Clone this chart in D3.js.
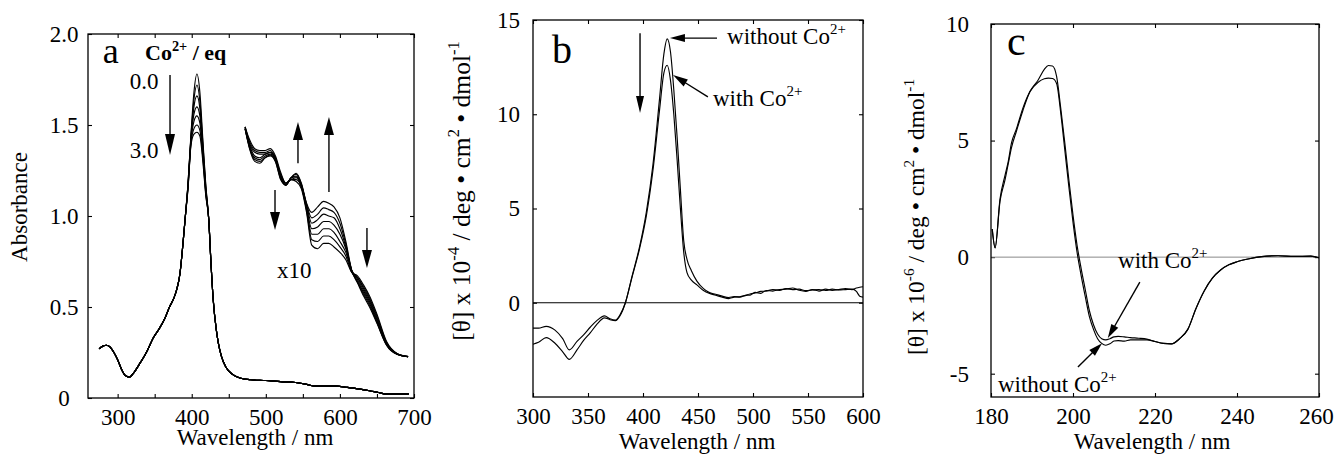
<!DOCTYPE html>
<html lang="en">
<head>
<meta charset="utf-8">
<title>Co2+ titration: absorbance and CD spectra</title>
<script src="https://cdn.jsdelivr.net/npm/d3@7"></script>
<style>
  body { margin: 0; background: #fff; }
  svg text { font-family: "Liberation Serif", "Times New Roman", serif; fill: #000; }
  .frame { fill: none; stroke: #000; stroke-width: 1.3; }
  .curve { fill: none; stroke: #000; stroke-width: 1.15; stroke-linejoin: round; }
  .zero { stroke-width: 1; }
  .arrow { stroke: #000; stroke-width: 1.4; }
</style>
</head>
<body>
<script>
// ---------- panel a : absorbance titration ----------
const eqLabels = ["0.0", "0.5", "1.0", "1.5", "2.0", "2.5", "3.0"];

// common part of the Soret spectrum, left and right of the peak
const absWlLeft = [275, 280, 285, 290, 295, 300, 305, 310, 316, 322, 330, 340, 348, 356, 364, 370, 376, 380, 384, 388, 391];
const absLeft   = [0.27, 0.285, 0.29, 0.28, 0.25, 0.21, 0.16, 0.125, 0.115, 0.14, 0.19, 0.26, 0.33, 0.38, 0.44, 0.50, 0.55, 0.60, 0.68, 0.84, 0.98];
const absWlRight = [423, 426, 429, 433, 436, 440, 446, 455, 465, 480, 500, 520, 540, 555, 565, 580, 595, 610, 625, 640, 652, 663, 675, 693];
const absRight   = [0.98, 0.74, 0.54, 0.38, 0.30, 0.23, 0.17, 0.13, 0.11, 0.10, 0.096, 0.09, 0.085, 0.075, 0.066, 0.066, 0.065, 0.058, 0.05, 0.04, 0.03, 0.022, 0.022, 0.022];

// Soret peak for each equivalent of Co2+
const peakWl = [395, 399, 403, 407, 411, 415, 419];
const peakAbs = [
  [1.18, 1.45, 1.68, 1.78, 1.68, 1.42, 1.17],
  [1.18, 1.44, 1.64, 1.72, 1.63, 1.40, 1.16],
  [1.17, 1.43, 1.60, 1.66, 1.59, 1.38, 1.15],
  [1.17, 1.42, 1.56, 1.60, 1.55, 1.36, 1.14],
  [1.16, 1.41, 1.52, 1.55, 1.51, 1.34, 1.13],
  [1.16, 1.40, 1.48, 1.50, 1.47, 1.32, 1.12],
  [1.15, 1.39, 1.45, 1.46, 1.44, 1.30, 1.11]
];

// Q-band region, shown x10 (values as plotted)
const insetWl = [472, 478, 485, 492, 499, 506, 513, 520, 527, 534, 541, 548, 555, 562, 570, 578, 585, 592, 600, 608, 616, 624, 632, 640, 650, 663, 677, 692];
const insetAbs = [
  [1.49, 1.42, 1.37, 1.36, 1.36, 1.37, 1.33, 1.24, 1.18, 1.20, 1.19, 1.15, 1.02, 0.84, 0.82, 0.85, 0.85, 0.83, 0.80, 0.76, 0.69, 0.67, 0.62, 0.56, 0.46, 0.31, 0.245, 0.227],
  [1.49, 1.41, 1.36, 1.35, 1.35, 1.36, 1.32, 1.23, 1.18, 1.20, 1.20, 1.16, 1.03, 0.87, 0.86, 0.89, 0.89, 0.87, 0.83, 0.78, 0.69, 0.66, 0.61, 0.55, 0.45, 0.305, 0.244, 0.227],
  [1.49, 1.40, 1.35, 1.34, 1.34, 1.35, 1.32, 1.22, 1.18, 1.20, 1.21, 1.16, 1.04, 0.90, 0.90, 0.93, 0.93, 0.91, 0.86, 0.80, 0.70, 0.66, 0.60, 0.54, 0.44, 0.30, 0.243, 0.227],
  [1.48, 1.39, 1.33, 1.32, 1.34, 1.35, 1.31, 1.22, 1.17, 1.21, 1.215, 1.17, 1.05, 0.93, 0.94, 0.97, 0.97, 0.95, 0.90, 0.82, 0.70, 0.65, 0.59, 0.53, 0.43, 0.30, 0.242, 0.227],
  [1.48, 1.38, 1.32, 1.31, 1.33, 1.34, 1.31, 1.21, 1.17, 1.21, 1.22, 1.17, 1.06, 0.96, 0.98, 1.01, 1.00, 0.99, 0.93, 0.83, 0.70, 0.64, 0.58, 0.52, 0.42, 0.295, 0.241, 0.227],
  [1.48, 1.375, 1.31, 1.30, 1.32, 1.335, 1.30, 1.205, 1.17, 1.21, 1.23, 1.175, 1.065, 0.99, 1.01, 1.045, 1.035, 1.02, 0.96, 0.845, 0.70, 0.635, 0.57, 0.51, 0.415, 0.29, 0.24, 0.227],
  [1.48, 1.37, 1.30, 1.29, 1.32, 1.33, 1.30, 1.20, 1.17, 1.21, 1.235, 1.18, 1.07, 1.02, 1.05, 1.08, 1.07, 1.05, 0.99, 0.86, 0.70, 0.63, 0.56, 0.50, 0.41, 0.29, 0.24, 0.227]
];

// ---------- panel b : visible CD ----------
const cdVisWl = [300, 305, 312, 320, 327, 333, 340, 346, 352, 358, 365, 370, 375, 379, 384, 390, 397, 403, 409, 415,
  419, 422, 425, 428, 431, 434, 437, 440, 444, 449, 455, 460, 466, 472, 478, 483, 488, 493, 498, 502,
  507, 512, 518, 524, 530, 536, 542, 548, 554, 560, 566, 572, 578, 584, 590, 594, 597, 600];
const cdVisWithout = [-2.2, -2.1, -1.85, -2.15, -2.6, -3.0, -2.5, -2.0, -1.6, -1.15, -0.8, -0.9, -0.95, -0.7, 0.0, 1.4, 3.0, 4.8, 7.3, 10.8,
  13.2, 14.0, 13.3, 11.3, 8.8, 6.0, 3.3, 2.3, 1.7, 1.15, 0.75, 0.55, 0.45, 0.35, 0.28, 0.33, 0.3, 0.38, 0.42, 0.55,
  0.5, 0.65, 0.62, 0.7, 0.72, 0.78, 0.66, 0.6, 0.7, 0.62, 0.72, 0.66, 0.7, 0.75, 0.7, 0.78, 0.82, 0.85];
const cdVisWith = [-1.35, -1.35, -1.25, -1.45, -1.9, -2.5, -2.05, -1.7, -1.3, -0.95, -0.7, -0.85, -0.92, -0.65, 0.0, 1.35, 2.9, 4.6, 7.0, 10.2,
  12.2, 12.6, 11.8, 10.0, 7.6, 5.0, 2.7, 1.6, 1.2, 0.95, 0.65, 0.5, 0.4, 0.3, 0.22, 0.3, 0.32, 0.4, 0.48, 0.52,
  0.6, 0.62, 0.7, 0.66, 0.75, 0.7, 0.72, 0.64, 0.68, 0.7, 0.65, 0.72, 0.68, 0.7, 0.72, 0.6, 0.35, 0.3];

// ---------- panel c : far-UV CD ----------
const cdUvWl = [180.3, 181, 182.2, 183.4, 184.2, 185, 186.2, 187.8, 189.5, 191.5,
  193, 194, 195, 196, 197, 198, 199, 200, 201, 202,
  203, 204, 205, 206, 207, 208, 209, 210, 211, 212.5,
  214, 216, 218, 220, 222, 224, 226, 228, 230, 232,
  234, 236, 238, 240, 243, 246, 250, 254, 258, 260];
const cdUvWith = [1.2, 0.4, 2.4, 3.3, 4.0, 4.7, 5.4, 6.3, 7.1, 7.6,
  8.05, 8.22, 8.2, 7.75, 6.4, 4.9, 3.3, 1.8, 0.5, -0.5,
  -1.4, -2.3, -2.9, -3.3, -3.5, -3.55, -3.5, -3.42, -3.4, -3.42,
  -3.45, -3.48, -3.52, -3.62, -3.7, -3.72, -3.5, -3.1, -2.2, -1.45,
  -0.9, -0.55, -0.33, -0.2, -0.07, 0.02, 0.06, 0.03, 0.04, -0.03];
const cdUvWithout = [1.2, 0.4, 2.5, 3.5, 4.1, 4.9, 5.5, 6.4, 7.1, 7.5,
  7.65, 7.68, 7.66, 7.45, 6.2, 4.6, 3.0, 1.5, 0.2, -0.8,
  -1.7, -2.55, -3.1, -3.5, -3.7, -3.78, -3.72, -3.6, -3.58, -3.6,
  -3.55, -3.55, -3.55, -3.62, -3.7, -3.72, -3.5, -3.1, -2.2, -1.45,
  -0.9, -0.55, -0.33, -0.2, -0.07, 0.02, 0.06, 0.03, 0.04, -0.03];

// ---------- drawing ----------
const W = 1334, H = 454;
const FONT = 23;
const svg = d3.select("body").append("svg").attr("width", W).attr("height", H);

function rich(g, parts, size, weight) {
  // parts: array of [string, isSuperscript]
  const t = g.append("text").attr("font-size", size).attr("font-weight", weight || "normal");
  let up = false;
  parts.forEach(([s, sup]) => {
    const ts = t.append("tspan").text(s);
    if (sup && !up) { ts.attr("font-size", size * 0.65).attr("dy", -size * 0.42); up = true; }
    else if (!sup && up) { ts.attr("dy", size * 0.42); up = false; }
  });
  return t;
}

function arrow(g, x1, y1, x2, y2, len, half) {
  const dx = x2 - x1, dy = y2 - y1, d = Math.hypot(dx, dy);
  const ux = dx / d, uy = dy / d;
  const bx = x2 - ux * len, by = y2 - uy * len;
  g.append("line").attr("class", "arrow")
    .attr("x1", x1).attr("y1", y1).attr("x2", bx + ux).attr("y2", by + uy);
  g.append("path").attr("fill", "#000")
    .attr("d", `M${x2},${y2}L${bx - uy * half},${by + ux * half}L${bx + uy * half},${by - ux * half}Z`);
}

function panel(o) {
  const g = svg.append("g");
  const x = d3.scaleLinear().domain(o.xDomain).range([o.left, o.right]);
  const y = d3.scaleLinear().domain(o.yDomain).range([o.bottom, o.top]);

  const styleAxis = s => {
    s.select(".domain").remove();
    s.attr("font-family", null).attr("font-size", FONT);
    s.selectAll(".tick line").attr("stroke-width", 1.1);
  };

  const xb = g.append("g").attr("transform", `translate(0,${o.bottom})`)
    .call(d3.axisBottom(x).tickValues(o.xTicks).tickFormat(o.xFmt).tickSizeInner(-4).tickSizeOuter(0).tickPadding(11))
    .call(styleAxis);
  if (o.lastXdx) xb.selectAll(".tick:last-of-type text").attr("dx", o.lastXdx);
  g.append("g").attr("transform", `translate(0,${o.top})`)
    .call(d3.axisTop(x).tickValues(o.xTicks).tickFormat("").tickSizeInner(-4).tickSizeOuter(0))
    .call(styleAxis);
  const yl = g.append("g").attr("transform", `translate(${o.left},0)`)
    .call(d3.axisLeft(y).tickValues(o.yTicks).tickFormat(o.yFmt).tickSizeInner(-4).tickSizeOuter(0).tickPadding(o.yPad))
    .call(styleAxis);
  if (o.yAnchor) yl.selectAll("text").attr("text-anchor", o.yAnchor);
  g.append("g").attr("transform", `translate(${o.right},0)`)
    .call(d3.axisRight(y).tickValues(o.yTicks).tickFormat("").tickSizeInner(-4).tickSizeOuter(0))
    .call(styleAxis);

  if (o.zero) {
    g.append("line").attr("class", "zero").attr("stroke", o.zero)
      .attr("x1", o.left).attr("x2", o.right).attr("y1", y(0)).attr("y2", y(0));
  }

  g.append("rect").attr("class", "frame")
    .attr("x", o.left).attr("y", o.top)
    .attr("width", o.right - o.left).attr("height", o.bottom - o.top);

  // axis titles
  g.append("text").attr("font-size", FONT).attr("text-anchor", "middle")
    .attr("x", (o.left + o.right) / 2 + o.xTitleDx).attr("y", o.xTitleY)
    .text("Wavelength / nm");
  rich(g, o.yTitle, o.yTitleSize || FONT)
    .attr("text-anchor", "middle")
    .attr("transform", `translate(${o.yTitleX},${o.yTitleCy}) rotate(-90)`);

  // panel letter
  g.append("text").attr("font-size", o.letterSize)
    .attr("x", x(o.letterAt[0])).attr("y", y(o.letterAt[1])).text(o.letter);

  return { g, x, y };
}

const line = (x, y) => d3.line().x(d => x(d[0])).y(d => y(d[1])).curve(d3.curveMonotoneX);

// ----- panel a -----
{
  const { g, x, y } = panel({
    left: 88, right: 414, top: 34, bottom: 398,
    xDomain: [260, 700], yDomain: [0, 2],
    xTicks: d3.range(300, 701, 50), xFmt: d => d % 100 === 0 ? d : "",
    yTicks: [0, 0.5, 1, 1.5, 2], yFmt: d => d === 0 ? "0" : d3.format(".1f")(d),
    yPad: 24, yAnchor: "middle",
    xTitleY: 445, xTitleDx: 4,
    yTitle: [["Absorbance", false]], yTitleX: 27, yTitleCy: 207,
    letter: "a", letterAt: [280, 1.84], letterSize: 36
  });

  const mainLine = line(x, y);
  peakAbs.forEach(pk => {
    const pts = absWlLeft.map((w, j) => [w, absLeft[j]])
      .concat(peakWl.map((w, j) => [w, pk[j]]))
      .concat(absWlRight.map((w, j) => [w, absRight[j]]));
    g.append("path").attr("class", "curve").attr("d", mainLine(pts));
  });
  insetAbs.forEach(vals => {
    g.append("path").attr("class", "curve").attr("stroke-width", 1)
      .attr("d", mainLine(insetWl.map((w, j) => [w, vals[j]])));
  });

  rich(g, [["Co", false], ["2+", true], [" / eq", false]], 22, "bold")
    .attr("x", x(337)).attr("y", y(1.857));
  g.append("text").attr("font-size", FONT).attr("x", x(316.5)).attr("y", y(1.70)).text(eqLabels[0]);
  g.append("text").attr("font-size", FONT).attr("x", x(316.5)).attr("y", y(1.32)).text(eqLabels[6]);
  g.append("text").attr("font-size", FONT).attr("x", x(515)).attr("y", y(0.66)).text("x10");

  arrow(g, x(370.7), y(1.775), x(370.7), y(1.335), 21, 5);
  arrow(g, x(543.4), y(1.29), x(543.4), y(1.516), 18, 5);
  arrow(g, x(585.2), y(1.132), x(585.2), y(1.544), 18, 5);
  arrow(g, x(512.4), y(1.143), x(512.4), y(0.923), 18, 5);
  arrow(g, x(636.5), y(0.934), x(636.5), y(0.714), 18, 5);
}

// ----- panel b -----
{
  const { g, x, y } = panel({
    left: 533, right: 863, top: 20, bottom: 397,
    xDomain: [300, 600], yDomain: [-5, 15],
    xTicks: d3.range(300, 601, 50), xFmt: d => d,
    yTicks: [0, 5, 10, 15], yFmt: d => d,
    yPad: 13,
    zero: "#000",
    xTitleY: 449, xTitleDx: -1,
    yTitle: [["[θ] x 10", false], ["-4", true], [" / deg • cm", false], ["2", true], [" • dmol", false], ["-1", true]],
    yTitleSize: 25.5, yTitleX: 470, yTitleCy: 191,
    letter: "b", letterAt: [317.3, 12.72], letterSize: 40
  });
  const l = line(x, y);
  g.append("path").attr("class", "curve").attr("d", l(cdVisWl.map((w, i) => [w, cdVisWithout[i]])));
  g.append("path").attr("class", "curve").attr("d", l(cdVisWl.map((w, i) => [w, cdVisWith[i]])));

  arrow(g, x(397.3), y(14.3), x(397.3), y(10.07), 17, 4);
  arrow(g, x(467.3), y(14.04), x(424.5), y(14.04), 15, 4);
  arrow(g, x(459), y(10.92), x(427.3), y(12.08), 15, 4);
  rich(g, [["without Co", false], ["2+", true]], FONT).attr("x", x(476.4)).attr("y", y(13.73));
  rich(g, [["with Co", false], ["2+", true]], FONT).attr("x", x(463.6)).attr("y", y(10.44));
}

// ----- panel c -----
{
  const { g, x, y } = panel({
    left: 991, right: 1319, top: 24, bottom: 397,
    xDomain: [180, 260], yDomain: [-6, 10],
    xTicks: d3.range(180, 261, 20), xFmt: d => d, lastXdx: -3,
    yTicks: [-5, 0, 5, 10], yFmt: d => d,
    yPad: 22,
    zero: "#888",
    xTitleY: 449, xTitleDx: -3,
    yTitle: [["[θ] x 10", false], ["-6", true], [" / deg • cm", false], ["2", true], [" • dmol", false], ["-1", true]],
    yTitleSize: 23.5, yTitleX: 924, yTitleCy: 217,
    letter: "c", letterAt: [183.9, 8.66], letterSize: 42
  });
  const l = line(x, y);
  g.append("path").attr("class", "curve").attr("d", l(cdUvWl.map((w, i) => [w, cdUvWith[i]])));
  g.append("path").attr("class", "curve").attr("d", l(cdUvWl.map((w, i) => [w, cdUvWithout[i]])));

  rich(g, [["with Co", false], ["2+", true]], FONT).attr("x", x(211)).attr("y", y(-0.47));
  rich(g, [["without Co", false], ["2+", true]], FONT).attr("x", x(181.7)).attr("y", y(-5.79));
  arrow(g, x(216.3), y(-1.07), x(208.5), y(-3.47), 14, 4);
  arrow(g, x(201.2), y(-4.71), x(207.1), y(-3.69), 14, 4);
}
</script>
</body>
</html>
